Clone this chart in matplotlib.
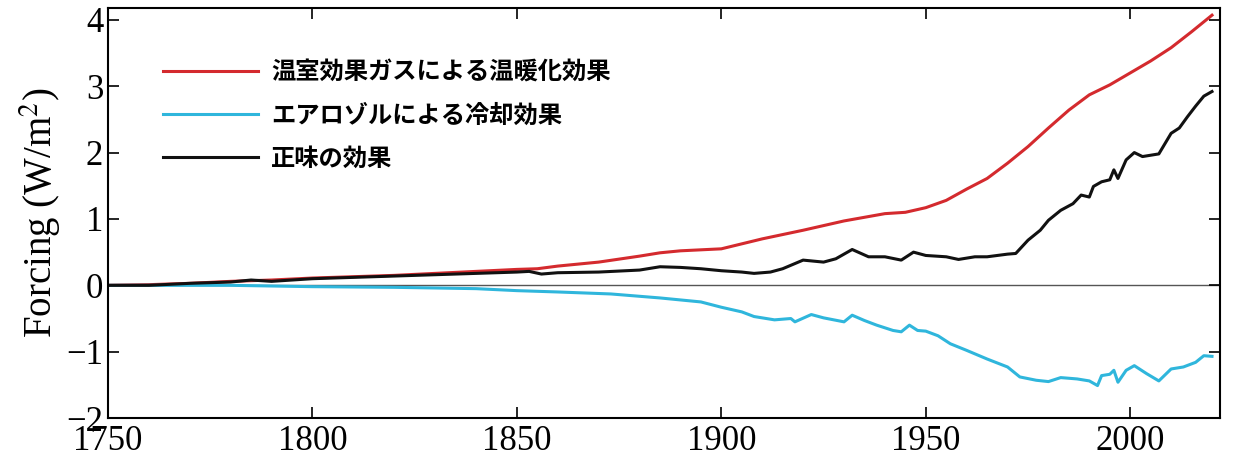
import matplotlib
matplotlib.use('Agg')
import matplotlib.pyplot as plt

plt.rcParams['font.family'] = ['Liberation Serif', 'DejaVu Serif']
plt.rcParams['mathtext.fontset'] = 'stix'

# 温室効果ガス (red)
ghg_years = [1750, 1760, 1770, 1780, 1790, 1800, 1810, 1820, 1830, 1840, 1850, 1855,
             1860, 1870, 1880, 1885, 1890, 1900, 1910, 1920, 1930, 1940, 1945, 1950,
             1955, 1960, 1965, 1970, 1975, 1980, 1985, 1990, 1995, 2000, 2005, 2010,
             2015, 2020]
ghg_vals = [0.0, 0.01, 0.03, 0.06, 0.08, 0.11, 0.13, 0.15, 0.18, 0.21, 0.24, 0.25,
            0.29, 0.35, 0.44, 0.49, 0.52, 0.55, 0.70, 0.83, 0.97, 1.08, 1.10, 1.17,
            1.28, 1.45, 1.61, 1.84, 2.09, 2.37, 2.64, 2.87, 3.02, 3.20, 3.38, 3.58,
            3.82, 4.07]

# エアロゾル (blue)
aer_years = [1750, 1760, 1780, 1800, 1820, 1840, 1850, 1860, 1873, 1885, 1895, 1900,
             1905, 1908, 1913, 1917, 1918, 1922, 1925, 1930, 1932, 1935, 1938, 1942,
             1944, 1946, 1948, 1950, 1953, 1956, 1960, 1965, 1970, 1973, 1977, 1980,
             1983, 1987, 1990, 1992, 1993, 1995, 1996, 1997, 1999, 2001, 2004, 2007,
             2010, 2013, 2016, 2018, 2020]
aer_vals = [0.0, 0.0, 0.0, -0.02, -0.03, -0.05, -0.08, -0.10, -0.13, -0.19, -0.25, -0.33,
            -0.40, -0.47, -0.52, -0.50, -0.55, -0.44, -0.49, -0.55, -0.45, -0.53, -0.60, -0.68,
            -0.70, -0.60, -0.68, -0.69, -0.76, -0.88, -0.98, -1.11, -1.23, -1.38, -1.43, -1.45,
            -1.39, -1.41, -1.44, -1.51, -1.36, -1.34, -1.28, -1.46, -1.28, -1.21, -1.33, -1.44,
            -1.26, -1.23, -1.16, -1.06, -1.07]

# 正味 (black)
net_years = [1750, 1760, 1770, 1780, 1785, 1790, 1800, 1810, 1820, 1830, 1840, 1850,
             1853, 1856, 1860, 1870, 1880, 1885, 1890, 1895, 1900, 1905, 1908, 1912,
             1915, 1920, 1925, 1928, 1932, 1936, 1940, 1944, 1947, 1950, 1955, 1958,
             1962, 1965, 1970, 1972, 1975, 1978, 1980, 1983, 1986, 1988, 1990, 1991,
             1993, 1995, 1996, 1997, 1999, 2001, 2003, 2007, 2010, 2012, 2014, 2016,
             2018, 2020]
net_vals = [0.0, 0.0, 0.03, 0.05, 0.08, 0.06, 0.10, 0.12, 0.14, 0.16, 0.18, 0.20,
            0.21, 0.17, 0.19, 0.20, 0.23, 0.28, 0.27, 0.25, 0.22, 0.20, 0.18, 0.20,
            0.25, 0.38, 0.35, 0.40, 0.54, 0.43, 0.43, 0.38, 0.50, 0.45, 0.43, 0.39,
            0.43, 0.43, 0.47, 0.48, 0.68, 0.83, 0.98, 1.13, 1.23, 1.36, 1.33, 1.49,
            1.56, 1.59, 1.74, 1.61, 1.89, 2.00, 1.94, 1.98, 2.29, 2.37, 2.54, 2.70,
            2.85, 2.92]

labels = ['温室効果ガスによる温暖化効果', 'エアロゾルによる冷却効果', '正味の効果']
colors = ['#d42a2e', '#2fb6dc', '#111111']

fig = plt.figure(figsize=(12.33, 4.63), dpi=100)
ax = fig.add_axes([0.0876, 0.097, 0.902, 0.886])

ax.axhline(0, color='#555555', lw=1.0, zorder=1)
ax.plot(ghg_years, ghg_vals, color=colors[0], lw=2.2, label=labels[0])
ax.plot(aer_years, aer_vals, color=colors[1], lw=2.2, label=labels[1])
ax.plot(net_years, net_vals, color=colors[2], lw=2.2, label=labels[2])

ax.set_xlim(1750, 2022)
ax.set_ylim(-2, 4.18)
ax.set_xticks([1750, 1800, 1850, 1900, 1950, 2000])
ax.set_yticks([-2, -1, 0, 1, 2, 3, 4])
ax.tick_params(direction='in', length=8, width=1.2, top=True, right=True,
               labelsize=25)
ax.tick_params(axis='x', pad=5)
for s in ax.spines.values():
    s.set_linewidth(1.5)
ax.set_ylabel('Forcing (W/m$^2$)', fontsize=28, labelpad=2)

leg = ax.legend(loc='upper left', bbox_to_anchor=(0.03, 0.925), frameon=False,
                handlelength=3.9, handletextpad=0.55, labelspacing=0.78,
                prop={'family': ['Noto Sans CJK JP', 'DejaVu Sans'],
                      'size': 17.5, 'weight': 'bold'})

fig.savefig('out.png', dpi=100)
